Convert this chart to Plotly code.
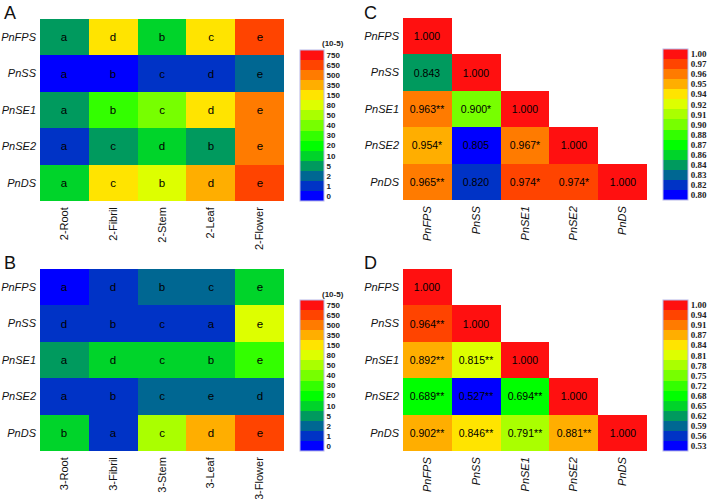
import plotly.graph_objects as go

# ---------------- data ----------------
genes = ["PnFPS", "PnSS", "PnSE1", "PnSE2", "PnDS"]
tissues_2 = ["2-Root", "2-Fibril", "2-Stem", "2-Leaf", "2-Flower"]
tissues_3 = ["3-Root", "3-Fibril", "3-Stem", "3-Leaf", "3-Flower"]

# expression colour levels (x10-5)
expr_levels = [0, 1, 2, 5, 10, 20, 30, 40, 50, 80, 150, 350, 500, 650, 750]

# estimated relative expression (x10-5), rows = genes, cols = tissues
expr_2 = [
    [7, 200, 15, 180, 700],
    [0.5, 0.6, 1.5, 1.4, 3],
    [7, 35, 45, 250, 550],
    [1.5, 7, 15, 6, 520],
    [15, 200, 100, 400, 680],
]
letters_2 = [
    ["a", "d", "b", "c", "e"],
    ["a", "b", "c", "d", "e"],
    ["a", "b", "c", "d", "e"],
    ["a", "c", "d", "b", "e"],
    ["a", "c", "b", "d", "e"],
]
expr_3 = [
    [0.5, 1.5, 3, 3, 15],
    [1.5, 1.3, 1.4, 1.2, 100],
    [7, 15, 14, 13, 35],
    [1.2, 1.4, 3, 4, 2.5],
    [15, 1.5, 60, 400, 700],
]
letters_3 = [
    ["a", "d", "b", "c", "e"],
    ["d", "b", "c", "a", "e"],
    ["a", "d", "c", "b", "e"],
    ["a", "b", "c", "e", "d"],
    ["b", "a", "c", "d", "e"],
]

# correlation matrices (lower triangle)
corr_levels_2 = [0.80, 0.82, 0.83, 0.84, 0.86, 0.87, 0.88, 0.90, 0.91, 0.92,
                 0.94, 0.95, 0.96, 0.97, 1.00]
corr_2 = [
    [1.000],
    [0.843, 1.000],
    [0.963, 0.900, 1.000],
    [0.954, 0.805, 0.967, 1.000],
    [0.965, 0.820, 0.974, 0.974, 1.000],
]
sig_2 = [
    [""],
    ["", ""],
    ["**", "*", ""],
    ["*", "", "*", ""],
    ["**", "", "*", "*", ""],
]
corr_levels_3 = [0.53, 0.56, 0.59, 0.62, 0.65, 0.68, 0.72, 0.75, 0.78, 0.81,
                 0.84, 0.87, 0.91, 0.94, 1.00]
corr_3 = [
    [1.000],
    [0.964, 1.000],
    [0.892, 0.815, 1.000],
    [0.689, 0.527, 0.694, 1.000],
    [0.902, 0.846, 0.791, 0.881, 1.000],
]
sig_3 = [
    [""],
    ["**", ""],
    ["**", "**", ""],
    ["**", "**", "**", ""],
    ["**", "**", "**", "**", ""],
]

palette = ["#0000FF", "#0033C6", "#006792", "#009A5E", "#00D42A", "#00FF00",
           "#33FF00", "#77FF00", "#AAFF00", "#DDFF00", "#FFE400", "#FFAE00",
           "#FF7B00", "#FF4400", "#FF1010"]

# ---------------- helpers ----------------
W, H = 708, 499
FONT = "Liberation Sans, Arial, sans-serif"


def fx(px):
    return px / W


def fy(py):
    return 1 - py / H


def to_bin(v, levels):
    if v is None:
        return None
    idx = 0
    for i, lv in enumerate(levels):
        if v >= lv - 1e-9:
            idx = i
    return idx


n = len(palette)
colorscale = []
for i, c in enumerate(palette):
    colorscale.append([i / n, c])
    colorscale.append([(i + 1) / n, c])

fig = go.Figure()

panels = [
    dict(ax="", xl=tissues_2, kind="expr", vals=expr_2, txt=letters_2,
         levels=expr_levels, rect=(40, 19, 284, 201), cb=(300, 50, 324, 201),
         xit=False),
    dict(ax="2", xl=tissues_3, kind="expr", vals=expr_3, txt=letters_3,
         levels=expr_levels, rect=(40, 269, 284, 451), cb=(300, 300, 324, 451),
         xit=False),
    dict(ax="3", xl=genes, kind="corr", vals=corr_2, txt=sig_2,
         levels=corr_levels_2, rect=(403, 18, 647, 200), cb=(663, 49, 688, 200),
         xit=True),
    dict(ax="4", xl=genes, kind="corr", vals=corr_3, txt=sig_3,
         levels=corr_levels_3, rect=(403, 269, 647, 451), cb=(663, 300, 688, 451),
         xit=True),
]

layout_axes = {}
for p in panels:
    z, text = [], []
    for r in range(5):
        zr, tr = [], []
        for c in range(5):
            if c < len(p["vals"][r]):
                v = p["vals"][r][c]
                zr.append(to_bin(v, p["levels"]))
                if p["kind"] == "expr":
                    tr.append(p["txt"][r][c])
                else:
                    tr.append(f"{v:.3f}{p['txt'][r][c]}")
            else:
                zr.append(None)
                tr.append("")
        z.append(zr)
        text.append(tr)

    if p["kind"] == "expr":
        ticktext = [str(v) for v in p["levels"]]
        cbfont = dict(family=FONT, size=8, color="#222", weight="bold")
        tfont = dict(family=FONT, size=11.5, color="#000")
    else:
        ticktext = [f"{v:.2f}" for v in p["levels"]]
        cbfont = dict(family="Liberation Serif, Times New Roman, serif", size=9,
                      color="#222", weight="bold")
        tfont = dict(family=FONT, size=10.5, color="#000")

    cx0, cy0, cx1, cy1 = p["cb"]
    fig.add_trace(go.Heatmap(
        z=z, x=p["xl"], y=genes, text=text, texttemplate="%{text}",
        textfont=tfont, colorscale=colorscale, zmin=-0.5, zmax=n - 0.5,
        xaxis="x" + p["ax"], yaxis="y" + p["ax"], hoverinfo="skip",
        colorbar=dict(
            x=fx(cx0), xanchor="left", y=fy(cy1), yanchor="bottom",
            len=(cy1 - cy0) / H, lenmode="fraction",
            thickness=cx1 - cx0, thicknessmode="pixels",
            xpad=0, ypad=0, outlinewidth=1, outlinecolor="#b8b8e8",
            tickmode="array", tickvals=list(range(n)), ticktext=ticktext,
            ticks="", ticklen=0, tickfont=cbfont,
        ),
    ))

    x0, y0, x1, y1 = p["rect"]
    xfont = dict(family=FONT, size=11, color="#111",
                 style="italic" if p["xit"] else "normal")
    layout_axes["xaxis" + p["ax"]] = dict(
        domain=[fx(x0), fx(x1)], anchor="y" + p["ax"], showgrid=False,
        zeroline=False, showline=False, ticks="", tickangle=-90,
        tickfont=xfont, automargin=False, fixedrange=True,
        ticklabelstandoff=3,
    )
    layout_axes["yaxis" + p["ax"]] = dict(
        domain=[fy(y1), fy(y0)], anchor="x" + p["ax"], showgrid=False,
        zeroline=False, showline=False, ticks="", autorange="reversed",
        tickfont=dict(family=FONT, size=11, color="#111", style="italic"),
        automargin=False, fixedrange=True, ticklabelstandoff=3,
    )

annotations = []
for lab, x, y in [("A", 2, 1), ("B", 2, 251), ("C", 362, 1), ("D", 362, 251)]:
    annotations.append(dict(text=lab, x=fx(x), y=fy(y), xref="paper", yref="paper",
                            xanchor="left", yanchor="top", showarrow=False,
                            font=dict(family=FONT, size=18, color="#111")))
for y in [44, 294]:
    annotations.append(dict(text="(10-5)", x=fx(333), y=fy(y), xref="paper",
                            yref="paper", xanchor="center", yanchor="middle",
                            showarrow=False,
                            font=dict(family=FONT, size=8, color="#222",
                                      weight="bold")))

fig.update_layout(
    width=W, height=H, margin=dict(l=0, r=0, t=0, b=0),
    paper_bgcolor="white", plot_bgcolor="white",
    showlegend=False, annotations=annotations, **layout_axes,
)

fig.write_html(
    "out.html",
    config={"displayModeBar": False},
    post_script="document.body.style.margin='0';document.body.style.padding='0';",
)
